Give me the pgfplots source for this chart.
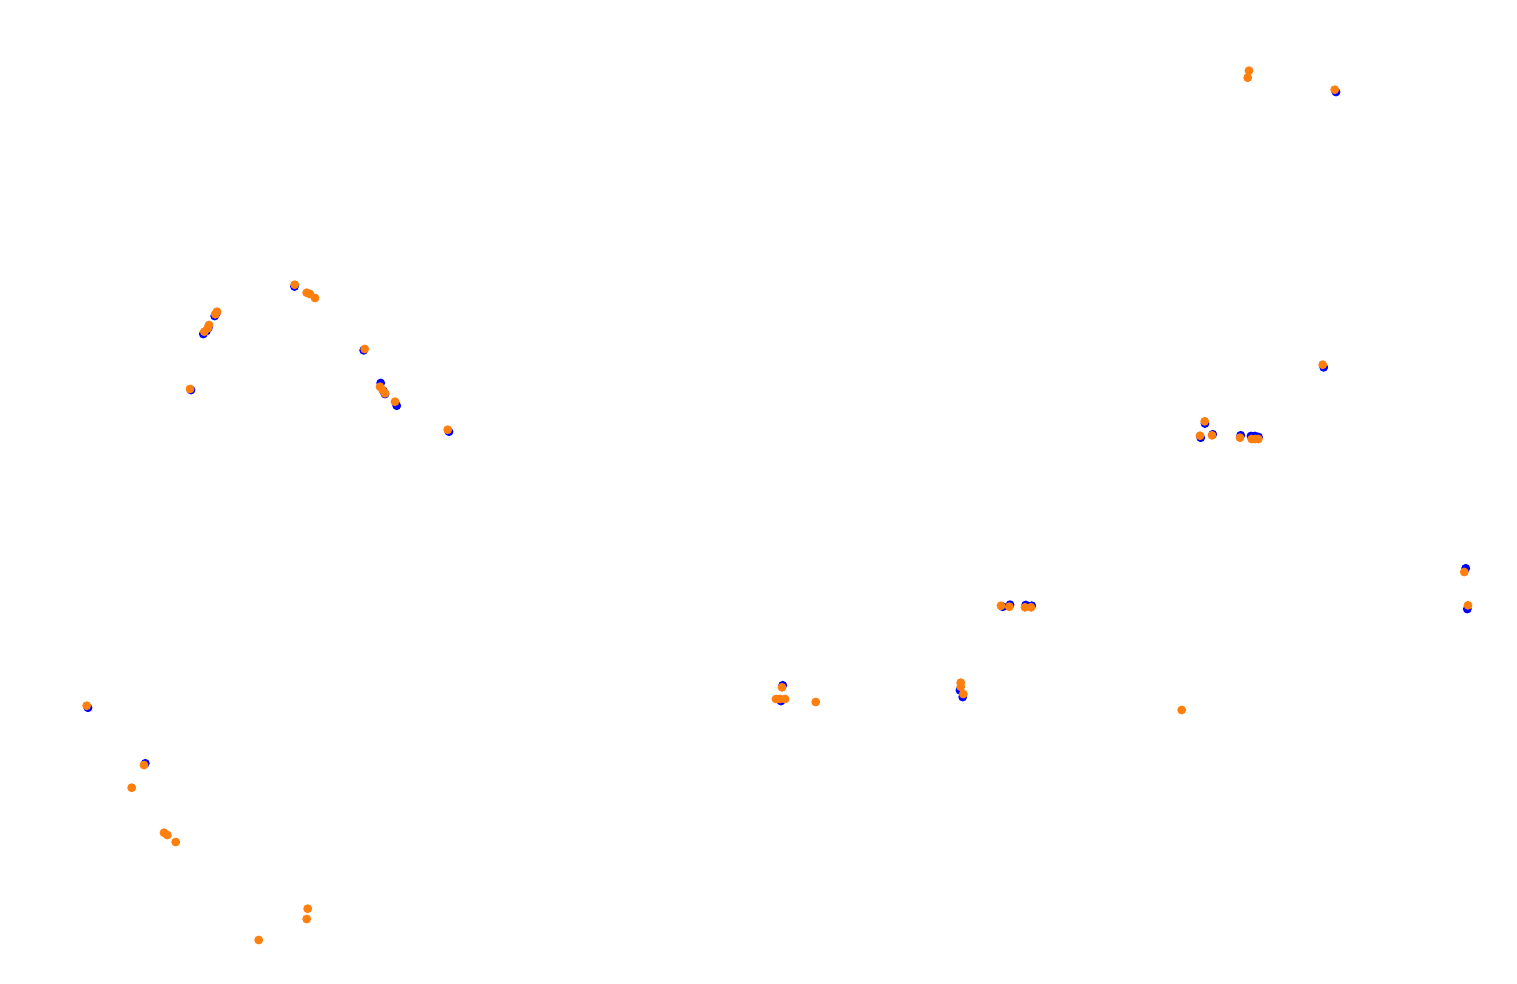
\documentclass[border=0pt]{standalone}
\usepackage{pgfplots}
\pgfplotsset{compat=1.18}
\definecolor{dotblue}{RGB}{0,0,255}
\definecolor{dotorange}{RGB}{255,127,14}
\begin{document}
\begin{tikzpicture}
\begin{axis}[
  width=15.17cm, height=9.83cm, scale only axis,
  xmin=0, xmax=1517, ymin=0, ymax=983, y dir=reverse,
  hide axis, clip=false,
]
% bounding box of the full canvas
\path[use as bounding box] (rel axis cs:0,0) rectangle (rel axis cs:1,1);
\addplot[only marks, mark=*, mark size=1.05pt, color=dotblue, mark options={draw=dotblue, fill=dotblue}] coordinates {
(294.5,286.5)
(214.7,316) (216.5,313) (208.5,327.5) (203.3,334) (206.5,331)
(191,390) (363.7,350.3)
(380.7,383) (383.5,391) (385,394) (396.7,405.7) (449,431.7)
(1205,423.5) (1200.7,437.7) (1212.7,434.3) (1240.7,435.3) (1251,436) (1255,436) (1258.5,437)
(782.7,685.3) (781,701)
(1002.7,606.7) (1010,604.7) (1025.7,605) (1031.7,605.7)
(960,690.3) (962.7,697)
(88,707.7) (145.3,763.3)
(1336,92) (1323.7,367.3) (1465.7,568.3) (1467.3,609)
};
\addplot[only marks, mark=*, mark size=1.05pt, color=dotorange, mark options={draw=dotorange, fill=dotorange}] coordinates {
(294.7,284.7) (306.7,292.7) (310,294) (315,298)
(217,311.7) (215.3,314.3) (209,325) (207.7,328.3) (204.3,331.7)
(190,389) (364.7,349)
(380,386.7) (382.7,390) (385,393.3) (395,401.7) (447.7,429.7)
(1204.7,421.3) (1200,435.7) (1212,435.3) (1240,437.7) (1251.7,439) (1255,439) (1258.3,439)
(782,687.3) (776,699) (780,699) (785,699) (815.7,702)
(1001,605.7) (1009.3,606.7) (1025,607.3) (1031,607.3)
(960.7,682.7) (960.7,686.7) (963.3,694)
(86.7,705.7) (144,765) (131.7,787.7) (164,832.7) (167.3,835) (175.7,842)
(307.7,908.7) (306.7,919) (258.7,940)
(1249,70.7) (1247.7,77.7) (1334.7,89.7) (1322.7,364.7)
(1464.3,572) (1468,605.3) (1181.7,710)
};
\end{axis}
\end{tikzpicture}
\end{document}
